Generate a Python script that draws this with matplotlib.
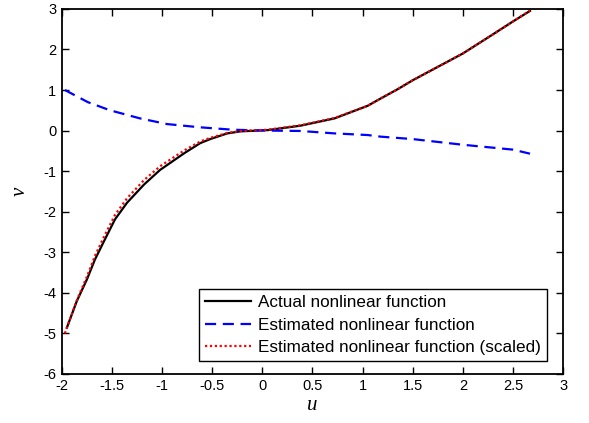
import numpy as np
import matplotlib
matplotlib.use("Agg")
import matplotlib.pyplot as plt

# actual nonlinear function (black)
u_actual = [-1.95, -1.85, -1.75, -1.67, -1.58, -1.47, -1.35, -1.18, -1.02, -0.78,
            -0.62, -0.52, -0.35, -0.22, 0.05, 0.38, 0.72, 1.05, 1.18, 1.35,
            1.5, 1.75, 2.0, 2.28, 2.5, 2.67]
v_actual = [-4.86, -4.20, -3.67, -3.18, -2.73, -2.19, -1.78, -1.33, -0.97, -0.56,
            -0.31, -0.21, -0.07, -0.02, 0.01, 0.12, 0.30, 0.61, 0.79, 1.02,
            1.24, 1.57, 1.90, 2.34, 2.69, 2.95]

# estimated nonlinear function (blue)
u_est = [-1.97, -1.74, -1.52, -1.22, -0.95, -0.62, -0.29, 0.05, 0.38, 0.72,
         1.05, 1.18, 1.5, 2.0, 2.5, 2.67]
v_est = [1.0, 0.70, 0.50, 0.30, 0.16, 0.08, 0.02, 0.0, -0.01, -0.07,
         -0.11, -0.15, -0.21, -0.35, -0.47, -0.57]

# estimated nonlinear function, scaled (red)
u_scaled = [-1.97, -1.85, -1.75, -1.67, -1.58, -1.47, -1.35, -1.18, -1.02, -0.78,
            -0.62, -0.52, -0.35, -0.22, 0.05, 0.38, 0.72, 1.05, 1.18, 1.35,
            1.5, 1.75, 2.0, 2.28, 2.5, 2.67]
v_scaled = [-5.0, -4.18, -3.60, -3.09, -2.62, -2.08, -1.67, -1.22, -0.88, -0.49,
            -0.27, -0.18, -0.06, -0.01, 0.02, 0.13, 0.31, 0.61, 0.79, 1.02,
            1.24, 1.57, 1.90, 2.34, 2.69, 2.96]

plt.rcParams["font.family"] = ["Liberation Sans", "DejaVu Sans"]
plt.rcParams["axes.unicode_minus"] = False

fig = plt.figure(figsize=(5.89, 4.23), dpi=100)
ax = fig.add_axes([0.105, 0.116, 0.851, 0.863])

ax.plot(u_actual, v_actual, color="black", linewidth=1.6, label="Actual nonlinear function")
ax.plot(u_est, v_est, color="blue", linewidth=1.6, linestyle=(0, (5, 3)),
        label="Estimated nonlinear function")
ax.plot(u_scaled, v_scaled, color="red", linewidth=1.6, linestyle=(0, (1, 1.2)),
        label="Estimated nonlinear function (scaled)")

ax.set_xlim(-2, 3)
ax.set_ylim(-6, 3)
ax.set_xticks(np.arange(-2, 3.01, 0.5))
ax.set_xticklabels(["-2", "-1.5", "-1", "-0.5", "0", "0.5", "1", "1.5", "2", "2.5", "3"])
ax.set_yticks(np.arange(-6, 4, 1))
ax.tick_params(direction="in", top=True, right=True, length=5, width=1.0,
               labelsize=10.5, pad=4)
for s in ax.spines.values():
    s.set_linewidth(1.3)

ax.set_xlabel("u", fontsize=15, style="italic", family="Liberation Serif", labelpad=2)
ax.set_ylabel("v", fontsize=15, style="italic", family="Liberation Serif", labelpad=10)

leg = ax.legend(loc="lower right", bbox_to_anchor=(0.974, 0.025), fontsize=12.3,
                fancybox=False, edgecolor="black", framealpha=1,
                handlelength=2.7, borderpad=0.35, labelspacing=0.45, handletextpad=0.4,
                borderaxespad=0.2)
leg.get_frame().set_linewidth(1.0)

fig.savefig("out.png", dpi=100)
